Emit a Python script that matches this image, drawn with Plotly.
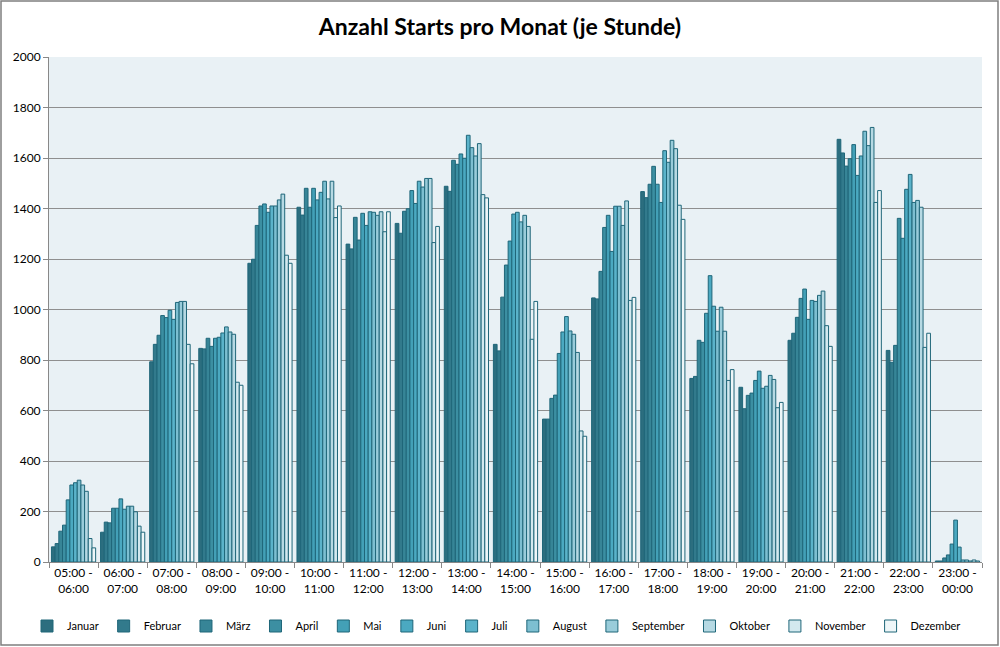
import plotly.graph_objects as go

categories = ["05:00 -<br>06:00", "06:00 -<br>07:00", "07:00 -<br>08:00", "08:00 -<br>09:00",
              "09:00 -<br>10:00", "10:00 -<br>11:00", "11:00 -<br>12:00", "12:00 -<br>13:00",
              "13:00 -<br>14:00", "14:00 -<br>15:00", "15:00 -<br>16:00", "16:00 -<br>17:00",
              "17:00 -<br>18:00", "18:00 -<br>19:00", "19:00 -<br>20:00", "20:00 -<br>21:00",
              "21:00 -<br>22:00", "22:00 -<br>23:00", "23:00 -<br>00:00"]

months = ["Januar", "Februar", "März", "April", "Mai", "Juni", "Juli", "August",
          "September", "Oktober", "November", "Dezember"]

# values per hour slot, 12 months each
h05 = [60, 73, 122, 146, 246, 305, 314, 324, 305, 280, 93, 56]
h06 = [118, 158, 155, 213, 213, 250, 209, 221, 221, 199, 142, 118]
h07 = [793, 862, 898, 976, 968, 997, 961, 1028, 1032, 1032, 862, 785]
h08 = [846, 844, 886, 854, 886, 890, 907, 931, 911, 902, 712, 700]
h09 = [1183, 1199, 1333, 1410, 1418, 1385, 1410, 1410, 1434, 1457, 1215, 1183]
h10 = [1405, 1374, 1480, 1405, 1480, 1434, 1464, 1508, 1438, 1508, 1364, 1410]
h11 = [1259, 1240, 1365, 1275, 1381, 1333, 1387, 1385, 1373, 1387, 1308, 1387]
h12 = [1341, 1302, 1389, 1399, 1471, 1420, 1508, 1485, 1519, 1519, 1265, 1329]
h13 = [1488, 1468, 1591, 1575, 1616, 1599, 1690, 1641, 1608, 1657, 1455, 1442]
h14 = [862, 836, 1049, 1176, 1271, 1378, 1385, 1347, 1373, 1329, 882, 1032]
h15 = [566, 566, 648, 661, 826, 911, 972, 915, 902, 830, 519, 498]
h16 = [1046, 1042, 1151, 1325, 1373, 1230, 1409, 1409, 1333, 1430, 1036, 1048]
h17 = [1467, 1443, 1496, 1567, 1496, 1424, 1629, 1583, 1670, 1637, 1413, 1357]
h18 = [727, 735, 878, 870, 985, 1134, 1013, 914, 1009, 914, 719, 762]
h19 = [692, 607, 660, 669, 719, 756, 688, 696, 739, 723, 611, 632]
h20 = [878, 906, 969, 1044, 1081, 961, 1036, 1032, 1056, 1073, 936, 854]
h21 = [1674, 1620, 1568, 1597, 1653, 1531, 1608, 1706, 1649, 1721, 1424, 1471]
h22 = [838, 791, 858, 1361, 1282, 1476, 1535, 1424, 1432, 1405, 850, 906]
h23 = [4, 4, 16, 28, 71, 166, 59, 8, 8, 4, 8, 4]

hours = [h05, h06, h07, h08, h09, h10, h11, h12, h13, h14, h15, h16, h17, h18, h19, h20, h21, h22, h23]

colors = ["#2C6E7F", "#327A8C", "#378597", "#3C8FA2", "#43A0B7", "#4BA9C1",
          "#5BB3CA", "#7DBFD1", "#99CCDA", "#B6D9E3", "#D3E9EF", "#EEF6F8"]

fig = go.Figure()
for m, name in enumerate(months):
    fig.add_trace(go.Bar(
        x=categories,
        y=[h[m] for h in hours],
        name=name,
        marker=dict(color=colors[m], line=dict(color="#1F6679", width=1)),
    ))

W, H = 1000, 647
ml, mr, mt, mb = 49, 18, 57, 85
pw, ph = W - ml - mr, H - mt - mb

fig.update_layout(
    width=W, height=H,
    margin=dict(l=ml, r=mr, t=mt, b=mb, pad=0, autoexpand=False),
    paper_bgcolor="white",
    plot_bgcolor="#E9F1F5",
    barmode="group",
    bargap=0.1,
    bargroupgap=0,
    font=dict(family="Lato, Noto Sans, sans-serif", size=12, color="#000000"),
    title=dict(text="<b>Anzahl Starts pro Monat (je Stunde)</b>",
               x=0.5, xanchor="center", y=1 - 27 / H, yanchor="middle",
               font=dict(size=23, color="#000000")),
    legend=dict(orientation="h", x=-22 / pw, xanchor="left", y=-64 / ph, yanchor="middle",
                font=dict(size=11), itemwidth=30, bgcolor="rgba(0,0,0,0)",
                itemclick=False, traceorder="normal"),
    showlegend=True,
)
fig.update_xaxes(showline=True, linecolor="#888888", linewidth=1,
                 ticks="outside", tickson="boundaries", ticklen=5, tickcolor="#888888",
                 showgrid=False, tickfont=dict(size=12), tickangle=0)
fig.update_yaxes(range=[0, 2000], dtick=200, showline=True, linecolor="#888888", linewidth=1,
                 ticks="outside", ticklen=5, tickcolor="#888888",
                 showgrid=True, gridcolor="#8F8F8F", gridwidth=1, zeroline=False,
                 tickfont=dict(size=12))

fig.add_shape(type="rect", xref="paper", yref="paper",
              x0=-(ml - 1) / pw, x1=1 + (mr - 2) / pw,
              y0=-(mb - 2) / ph, y1=1 + (mt - 1) / ph,
              line=dict(color="#7F7F7F", width=1.5), fillcolor="rgba(0,0,0,0)", layer="above")

fig.write_html("out.html", config={"displayModeBar": False},
               post_script="document.body.style.margin='0';document.body.style.overflow='hidden';")
